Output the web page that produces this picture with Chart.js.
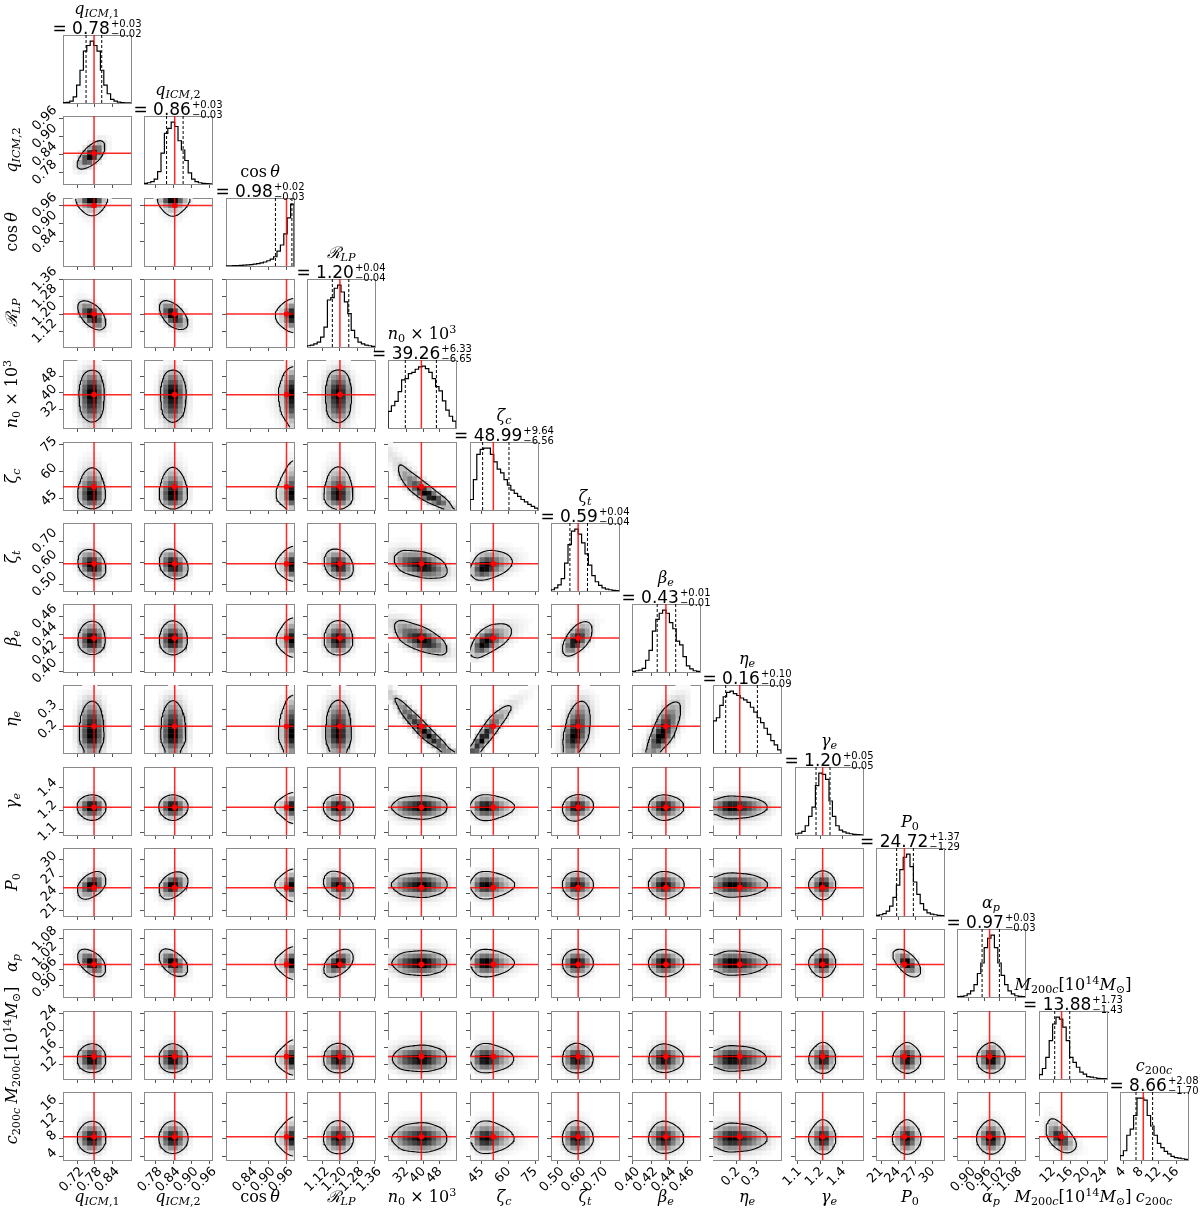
<!DOCTYPE html>
<html><head><meta charset="utf-8"><title>Corner plot</title>
<script src="https://cdn.jsdelivr.net/npm/chart.js@4.4.1/dist/chart.umd.min.js"></script>
<style>
html,body{margin:0;padding:0;background:#fff;}
#wrap{position:relative;width:1200px;height:1208px;overflow:hidden;background:#fff;}
#wrap canvas{position:absolute;}
.lbl{position:absolute;white-space:nowrap;color:#000;font-family:'DejaVu Serif',serif;font-size:16px;line-height:20px;}
.lbl i{font-style:italic;}
.lbl sub{font-size:70%;vertical-align:-0.3em;line-height:0;}
.lbl sup{font-size:70%;vertical-align:0.5em;line-height:0;}
.val{position:absolute;width:260px;text-align:center;white-space:nowrap;color:#000;font-family:'DejaVu Sans',sans-serif;font-size:17px;line-height:20px;}
.sc{display:inline-block;font-size:10px;line-height:10px;vertical-align:-3px;text-align:left;margin-left:1px;}
.sc span{display:block;}
</style></head>
<body><div id="wrap"></div>
<script>
// ---------------- DATA ----------------
const paramLabels = [
  '<i>q</i><sub><i>ICM</i>,1</sub>',
  '<i>q</i><sub><i>ICM</i>,2</sub>',
  'cos&#8201;<i>θ</i>',
  '<i>ℛ</i><sub><i>LP</i></sub>',
  '<i>n</i><sub>0</sub> × 10<sup>3</sup>',
  '<i>ζ</i><sub><i>c</i></sub>',
  '<i>ζ</i><sub><i>t</i></sub>',
  '<i>β</i><sub><i>e</i></sub>',
  '<i>η</i><sub><i>e</i></sub>',
  '<i>γ</i><sub><i>e</i></sub>',
  '<i>P</i><sub>0</sub>',
  '<i>α</i><sub><i>p</i></sub>',
  '<i>M</i><sub>200<i>c</i></sub>[10<sup>14</sup><i>M</i><sub>⊙</sub>]',
  '<i>c</i><sub>200<i>c</i></sub>'
];
const titleMedian = ['0.78','0.86','0.98','1.20','39.26','48.99','0.59','0.43','0.16','1.20','24.72','0.97','13.88','8.66'];
const titlePlus   = ['0.03','0.03','0.02','0.04','6.33','9.64','0.04','0.01','0.10','0.05','1.37','0.03','1.73','2.08'];
const titleMinus  = ['0.02','0.03','0.03','0.04','6.65','6.56','0.04','0.01','0.09','0.05','1.29','0.03','1.43','1.70'];

const axisMin = [0.672, 0.742, 0.758, 1.048, 23.1, 38.4, 0.470, 0.399, 0.083, 1.030, 20.125, 0.855, 8.64, 3.26];
const axisMax = [0.902, 0.968, 0.985, 1.362, 55.7, 76.6, 0.783, 0.474, 0.423, 1.4924, 32.0, 1.118, 24.48, 18.56];
const truthValues = [0.777, 0.844, 0.960, 1.200, 39.1, 51.5, 0.595, 0.4364, 0.2167, 1.218, 25.08, 0.981, 13.9, 8.5];
const q16Values   = [0.750, 0.817, 0.923, 1.165, 31.4, 45.5, 0.557, 0.4268, 0.1465, 1.173, 23.73, 0.952, 12.3, 6.86];
const q84Values   = [0.803, 0.872, 0.978, 1.241, 46.3, 60.3, 0.638, 0.4472, 0.305, 1.268, 26.65, 1.019, 15.8, 10.6];

const tickValues = [
  [0.72,0.78,0.84], [0.78,0.84,0.90,0.96], [0.84,0.90,0.96], [1.12,1.20,1.28,1.36],
  [32,40,48], [45,60,75], [0.50,0.60,0.70], [0.40,0.42,0.44,0.46], [0.2,0.3],
  [1.05,1.20,1.35], [21,24,27,30], [0.90,0.96,1.02,1.08], [12,16,20,24], [4,8,12,16]
];
const tickLabels = [
  ['0.72','0.78','0.84'], ['0.78','0.84','0.90','0.96'], ['0.84','0.90','0.96'], ['1.12','1.20','1.28','1.36'],
  ['32','40','48'], ['45','60','75'], ['0.50','0.60','0.70'], ['0.40','0.42','0.44','0.46'], ['0.2','0.3'],
  ['1.1','1.2','1.4'], ['21','24','27','30'], ['0.90','0.96','1.02','1.08'], ['12','16','20','24'], ['4','8','12','16']
];

// 1D histogram heights (20 bins across each axis range, relative to peak)
const hist_qICM1  = [0.005,0.01,0.03,0.10,0.29,0.53,0.84,0.93,1.0,0.93,0.84,0.53,0.29,0.15,0.06,0.03,0.015,0.008,0.004,0.002];
const hist_qICM2  = [0.01,0.02,0.04,0.08,0.20,0.50,0.82,0.90,1.0,0.93,0.70,0.55,0.38,0.18,0.08,0.04,0.02,0.01,0.005,0.003];
const hist_cos    = [0.003,0.004,0.005,0.007,0.01,0.013,0.017,0.022,0.03,0.04,0.05,0.065,0.085,0.11,0.15,0.24,0.34,0.52,0.78,1.0];
const hist_RLP    = [0.02,0.03,0.05,0.08,0.16,0.32,0.76,0.80,0.95,1.0,0.89,0.73,0.54,0.27,0.15,0.08,0.05,0.03,0.02,0.01];
const hist_n0     = [0.27,0.36,0.43,0.59,0.78,0.80,0.88,0.90,0.95,0.99,1.0,0.96,0.90,0.80,0.67,0.60,0.44,0.29,0.19,0.11];
const hist_zetaC  = [0.17,0.49,0.90,0.98,1.0,1.0,0.90,0.78,0.66,0.60,0.49,0.40,0.32,0.27,0.22,0.17,0.13,0.09,0.06,0.03];
const hist_zetaT  = [0.02,0.05,0.10,0.20,0.45,0.75,0.97,1.0,0.92,0.78,0.60,0.42,0.25,0.15,0.09,0.05,0.03,0.02,0.01,0.005];
const hist_betaE  = [0.01,0.02,0.03,0.06,0.19,0.35,0.66,0.85,0.95,1.0,0.95,0.80,0.70,0.50,0.44,0.25,0.10,0.05,0.02,0.01];
const hist_etaE   = [0.52,0.57,0.77,0.91,0.98,1.0,0.96,0.93,0.89,0.86,0.82,0.74,0.66,0.57,0.49,0.40,0.30,0.20,0.13,0.05];
const hist_gammaE = [0.02,0.03,0.06,0.15,0.30,0.45,0.80,1.0,0.98,0.90,0.55,0.30,0.15,0.08,0.05,0.03,0.02,0.01,0.005,0.003];
const hist_P0     = [0.01,0.02,0.04,0.08,0.16,0.30,0.50,0.75,0.95,1.0,0.80,0.55,0.35,0.20,0.10,0.05,0.03,0.02,0.01,0.005];
const hist_alphaP = [0.005,0.01,0.02,0.05,0.10,0.20,0.38,0.55,0.80,0.95,1.0,0.80,0.55,0.35,0.20,0.10,0.05,0.02,0.01,0.005];
const hist_M200c  = [0.07,0.17,0.35,0.62,0.89,1.0,0.97,0.84,0.62,0.35,0.27,0.19,0.11,0.08,0.04,0.03,0.02,0.01,0.008,0.005];
const hist_c200c  = [0.07,0.15,0.40,0.50,0.72,1.0,1.0,0.97,0.72,0.55,0.40,0.27,0.20,0.14,0.10,0.06,0.04,0.03,0.02,0.01];
const histograms = [hist_qICM1,hist_qICM2,hist_cos,hist_RLP,hist_n0,hist_zetaC,hist_zetaT,hist_betaE,hist_etaE,hist_gammaE,hist_P0,hist_alphaP,hist_M200c,hist_c200c];

const correlationPairs = [
  [1,0,0.70],
  [3,0,-0.60],[3,1,-0.60],
  [5,4,-0.90],
  [6,0,-0.25],[6,1,-0.25],[6,3,-0.25],[6,4,-0.35],[6,5,0.30],
  [7,4,-0.60],[7,5,0.60],[7,6,0.60],
  [8,4,-0.95],[8,5,0.93],[8,6,0.35],[8,7,0.65],
  [9,6,0.15],
  [10,0,0.45],[10,1,0.40],[10,3,-0.35],
  [11,0,-0.55],[11,1,-0.55],[11,3,0.55],[11,10,-0.70],
  [13,12,-0.60]
];

// ---------------- LAYOUT ----------------
const N = 14;
const X0 = 63, Y0 = 35, PITCH = 81.3, SIZE = 68;
const ML = 60, MR = 20, MT = 26, MB = 52;
const FRAME = '#8a8a8a', TICKC = '#555';
const TICK_FONT = 13;
const NB2 = 14;           // visible density cells per axis
const SUB = 3;            // fine sub-cells per density cell
const G = NB2 * SUB;      // fine grid for contouring
const SMOOTH = 2.0;       // smoothing (fine cells)
const LEVEL_MASS = 0.68;  // mass enclosed by the contour
const GAMMA = 1.7;
const wrap = document.getElementById('wrap');
const panelLeft = j => Math.round(X0 + j * PITCH);
const panelTop = i => Math.round(Y0 + i * PITCH);

const mctx = document.createElement('canvas').getContext('2d');
function measure(txt){ mctx.font = TICK_FONT + "px 'DejaVu Sans'"; return mctx.measureText(txt).width; }

// ---------------- stats helpers ----------------
function normInv(p){
  const a=[-39.69683028665376,220.9460984245205,-275.9285104469687,138.3577518672690,-30.66479806614716,2.506628277459239];
  const b=[-54.47609879822406,161.5858368580409,-155.6989798598866,66.80131188771972,-13.28068155288572];
  const c=[-0.007784894002430293,-0.3223964580411365,-2.400758277161838,-2.549732539343734,4.374664141464968,2.938163982698783];
  const d=[0.007784695709041462,0.3224671290700398,2.445134137142996,3.754408661907416];
  p = Math.min(Math.max(p,1e-7),1-1e-7);
  const pl=0.02425; let q,r;
  if(p<pl){ q=Math.sqrt(-2*Math.log(p)); return (((((c[0]*q+c[1])*q+c[2])*q+c[3])*q+c[4])*q+c[5])/((((d[0]*q+d[1])*q+d[2])*q+d[3])*q+1); }
  if(p>1-pl){ q=Math.sqrt(-2*Math.log(1-p)); return -(((((c[0]*q+c[1])*q+c[2])*q+c[3])*q+c[4])*q+c[5])/((((d[0]*q+d[1])*q+d[2])*q+d[3])*q+1); }
  q=p-0.5; r=q*q; return (((((a[0]*r+a[1])*r+a[2])*r+a[3])*r+a[4])*r+a[5])*q/(((((b[0]*r+b[1])*r+b[2])*r+b[3])*r+b[4])*r+1);
}
function makeDist(p){
  const h = histograms[p].map(v => Math.max(v, 1e-4)), lo = axisMin[p], hi = axisMax[p];
  const n = h.length, w = (hi-lo)/n, tot = h.reduce((a,b)=>a+b,0);
  const C=[0]; for(let k=0;k<n;k++) C.push(C[k]+h[k]/tot);
  return {
    pdf(x){ const k=Math.floor((x-lo)/w); return (k<0||k>=n)?0:h[k]/tot/w; },
    cdf(x){ if(x<=lo) return 0; if(x>=hi) return 1; const t=(x-lo)/w, k=Math.min(n-1,Math.floor(t)); return C[k]+(t-k)*(C[k+1]-C[k]); }
  };
}
const dists = histograms.map((_,p)=>makeDist(p));
function corrOf(i,j){ const f = correlationPairs.find(c=>c[0]===i&&c[1]===j); return f ? f[2] : 0; }

function smoothGrid(D){
  const R = Math.ceil(SMOOTH*2.5), ker = [];
  for (let k=-R;k<=R;k++) ker.push(Math.exp(-0.5*(k/SMOOTH)**2));
  const tmp = new Float64Array(G*G), out = new Float64Array(G*G);
  for (let b=0;b<G;b++) for (let a=0;a<G;a++){ let s=0,ws=0; for(let k=-R;k<=R;k++){ const aa=a+k; if(aa<0||aa>=G) continue; s+=D[b*G+aa]*ker[k+R]; ws+=ker[k+R]; } tmp[b*G+a]=s/ws; }
  for (let b=0;b<G;b++) for (let a=0;a<G;a++){ let s=0,ws=0; for(let k=-R;k<=R;k++){ const bb=b+k; if(bb<0||bb>=G) continue; s+=tmp[bb*G+a]*ker[k+R]; ws+=ker[k+R]; } out[b*G+a]=s/ws; }
  return out;
}
// marching squares -> list of polylines (in grid node coordinates)
function contourLines(D, L){
  const pts = new Map(), adj = new Map();
  const val = (a,b) => D[b*G+a];
  function edgePt(key, a1,b1,a2,b2){
    if (!pts.has(key)){ const v1=val(a1,b1), v2=val(a2,b2); const t=(L-v1)/(v2-v1); pts.set(key,[a1+t*(a2-a1), b1+t*(b2-b1)]); }
    return key;
  }
  function link(k1,k2){ if(!adj.has(k1)) adj.set(k1,[]); if(!adj.has(k2)) adj.set(k2,[]); adj.get(k1).push(k2); adj.get(k2).push(k1); }
  for (let b=0;b<G-1;b++) for (let a=0;a<G-1;a++){
    const v0=val(a,b)>=L, v1=val(a+1,b)>=L, v2=val(a+1,b+1)>=L, v3=val(a,b+1)>=L;
    const E = [];
    const e0 = () => edgePt('h'+a+','+b, a,b,a+1,b);
    const e1 = () => edgePt('v'+(a+1)+','+b, a+1,b,a+1,b+1);
    const e2 = () => edgePt('h'+a+','+(b+1), a,b+1,a+1,b+1);
    const e3 = () => edgePt('v'+a+','+b, a,b,a,b+1);
    const n = v0+v1+v2+v3;
    if (n===0 || n===4) continue;
    if (n===2 && v0===v2){
      const center = (val(a,b)+val(a+1,b)+val(a+1,b+1)+val(a,b+1))/4 >= L;
      if (v0 === center){ link(e0(),e1()); link(e2(),e3()); } else { link(e0(),e3()); link(e1(),e2()); }
      continue;
    }
    if (v0!==v1) E.push(e0()); if (v1!==v2) E.push(e1()); if (v3!==v2) E.push(e2()); if (v0!==v3) E.push(e3());
    if (E.length===2) link(E[0],E[1]);
  }
  const used = new Set(), lines = [];
  const segKey = (x,y) => x<y ? x+'|'+y : y+'|'+x;
  function walk(start){
    const line=[start]; let cur=start;
    while (true){
      const nb = (adj.get(cur)||[]).find(k => !used.has(segKey(cur,k)));
      if (nb===undefined) break;
      used.add(segKey(cur,nb)); line.push(nb); cur=nb;
    }
    return line;
  }
  for (const [k,v] of adj) if (v.length===1 && !used.has(segKey(k,v[0]))) lines.push(walk(k));
  for (const [k,v] of adj) for (const o of v) if (!used.has(segKey(k,o))) lines.push(walk(k));
  return lines.map(l => l.map(k => pts.get(k)));
}

// ---------------- axis configs ----------------
function visibleTicks(p){
  const vals=[], labs=[];
  tickValues[p].forEach((v,k)=>{ if(v>=axisMin[p]-1e-9 && v<=axisMax[p]+1e-9){ vals.push(v); labs.push(tickLabels[p][k]); } });
  return {vals, labs};
}
function noPad(s){ s.paddingLeft=s.paddingRight=s.paddingTop=s.paddingBottom=0; }
function xAxis(p, showLabels){
  const {vals, labs} = visibleTicks(p);
  const w = Math.max(...labs.map(measure));
  return { type:'linear', position:'bottom', min:axisMin[p], max:axisMax[p],
    afterBuildTicks: s => { s.ticks = vals.map(v=>({value:v})); },
    ticks:{ display:showLabels, color:'#000', font:{family:"'DejaVu Sans'", size:TICK_FONT}, minRotation:45, maxRotation:45,
      autoSkip:false, padding:0, labelOffset: 0.354*w - 0.42*TICK_FONT, callback:(v,idx)=>labs[idx] },
    grid:{ display:true, drawOnChartArea:false, drawTicks:true, tickLength:4, color:TICKC, lineWidth:1 },
    border:{ display:true, color:FRAME, width:1 },
    afterFit: s => { s.height = MB; noPad(s); } };
}
function yAxis(p, showLabels){
  const {vals, labs} = visibleTicks(p);
  const w = Math.max(...labs.map(measure));
  return { type:'linear', position:'left', min:axisMin[p], max:axisMax[p],
    afterBuildTicks: s => { s.ticks = vals.map(v=>({value:v})); },
    ticks:{ display:showLabels, color:'#000', font:{family:"'DejaVu Sans'", size:TICK_FONT}, minRotation:45, maxRotation:45,
      autoSkip:false, padding:4, labelOffset: -0.354*w, callback:(v,idx)=>labs[idx] },
    grid:{ display:true, drawOnChartArea:false, drawTicks:true, tickLength:4, color:TICKC, lineWidth:1 },
    border:{ display:true, color:FRAME, width:1 },
    afterFit: s => { s.width = ML; noPad(s); } };
}
function histYAxis(ymax){
  return { type:'linear', position:'left', min:0, max:ymax, ticks:{display:false},
    grid:{ display:true, drawOnChartArea:false, drawTicks:false }, border:{ display:true, color:FRAME, width:1 },
    afterFit: s => { s.width = ML; noPad(s); } };
}
function frameAxis(pos, lo, hi){
  return { type:'linear', position:pos, min:lo, max:hi, ticks:{display:false},
    grid:{ display:true, drawOnChartArea:false, drawTicks:false }, border:{ display:true, color:FRAME, width:1 },
    afterFit: s => { if(pos==='top') s.height = MT; else s.width = MR; noPad(s); } };
}
function makeChart(i, j, datasets, scales){
  const c = document.createElement('canvas');
  const W = ML+SIZE+MR, H = MT+SIZE+MB;
  c.width = W; c.height = H; c.style.width = W+'px'; c.style.height = H+'px';
  c.style.left = (panelLeft(j)-ML)+'px'; c.style.top = (panelTop(i)-MT)+'px';
  wrap.appendChild(c);
  new Chart(c, { type:'scatter', data:{ datasets },
    options:{ responsive:false, maintainAspectRatio:false, animation:false, devicePixelRatio:1, events:[],
      layout:{ padding:0 }, plugins:{ legend:{display:false}, tooltip:{enabled:false}, title:{display:false} }, scales } });
}
function vLine(x, y0, y1, color, width, dash, order){
  return { data:[{x, y:y0},{x, y:y1}], showLine:true, borderColor:color, borderWidth:width, borderDash:dash||[], pointRadius:0, order, clip:0 };
}
const RED = 'rgba(255,0,0,0.85)';

// ---------------- 1D histogram panels ----------------
for (let p = 0; p < N; p++){
  const lo = axisMin[p], hi = axisMax[p], h = histograms[p], n = h.length, w = (hi-lo)/n;
  const ymax = 1.1 * Math.max(...h);
  const pts = [{x:lo, y:0}];
  h.forEach((v,k) => pts.push({x: lo + k*w, y: v}));
  pts.push({x:hi, y:0});
  const ds = [
    vLine(truthValues[p], 0, ymax, RED, 1.5, null, 0),
    vLine(q16Values[p], 0, ymax, '#000', 1, [3,2], 1),
    vLine(q84Values[p], 0, ymax, '#000', 1, [3,2], 1),
    { data: pts, showLine:true, stepped:true, borderColor:'#000', borderWidth:1.2, pointRadius:0, order:2, clip:0 }
  ];
  makeChart(p, p, ds, { x: xAxis(p, p === N-1), y: histYAxis(ymax), xt: frameAxis('top', lo, hi), yr: frameAxis('right', 0, ymax) });
}

// ---------------- 2D panels ----------------
for (let i = 1; i < N; i++){
  for (let j = 0; j < i; j++){
    const dx = dists[j], dy = dists[i], rho = corrOf(i,j);
    const lx = axisMin[j], hx = axisMax[j], ly = axisMin[i], hy = axisMax[i];
    const gx = (hx-lx)/G, gy = (hy-ly)/G;
    const k1 = 1/Math.sqrt(1-rho*rho), k2 = 2*(1-rho*rho);
    const fxA=[], zxA=[], fyA=[], zyA=[];
    for (let a=0;a<G;a++){ const x=lx+(a+0.5)*gx; fxA.push(dx.pdf(x)); zxA.push(Math.max(-3.5,Math.min(3.5,normInv(dx.cdf(x))))); }
    for (let b=0;b<G;b++){ const y=ly+(b+0.5)*gy; fyA.push(dy.pdf(y)); zyA.push(Math.max(-3.5,Math.min(3.5,normInv(dy.cdf(y))))); }
    const D = new Float64Array(G*G);
    for (let b=0;b<G;b++) for (let a=0;a<G;a++){
      const z1=zxA[a], z2=zyA[b];
      D[b*G+a] = fxA[a]*fyA[b]*k1*Math.exp(-(rho*rho*(z1*z1+z2*z2) - 2*rho*z1*z2)/k2);
    }
    const S = smoothGrid(D);
    const coarse = [];
    let cmax = 0;
    for (let B=0;B<NB2;B++) for (let A=0;A<NB2;A++){
      let s=0; for (let u=0;u<SUB;u++) for (let v=0;v<SUB;v++) s += S[(B*SUB+v)*G + A*SUB+u];
      coarse.push({x: lx+(A+0.5)*(hx-lx)/NB2, y: ly+(B+0.5)*(hy-ly)/NB2, v:s}); if (s>cmax) cmax=s;
    }
    const cells=[], colors=[];
    coarse.forEach(c => { const t=Math.pow(c.v/cmax, GAMMA); if (t>0.015){ cells.push({x:c.x,y:c.y}); const g=Math.round(255*(1-t)); colors.push(`rgb(${g},${g},${g})`); } });
    const sorted = Array.from(S).sort((a,b)=>b-a);
    const total = sorted.reduce((a,b)=>a+b,0);
    let cum=0, L=sorted[0];
    for (const v of sorted){ cum+=v; if (cum >= LEVEL_MASS*total){ L=v; break; } }
    const lines = contourLines(S, L);
    const cellPx = SIZE/NB2;
    const ds = [
      { data:[{x:truthValues[j], y:truthValues[i]}], pointStyle:'circle', pointRadius:2.8, backgroundColor:'#ff0000', borderWidth:0, order:0, clip:0 },
      vLine(truthValues[j], ly, hy, RED, 1.5, null, 1),
      { data:[{x:lx, y:truthValues[i]},{x:hx, y:truthValues[i]}], showLine:true, borderColor:RED, borderWidth:1.5, pointRadius:0, order:1, clip:0 },
      { data: cells, pointStyle:'rect', pointRadius: cellPx/Math.SQRT2 + 0.3, backgroundColor: colors, borderWidth:0, order:3, clip:0 }
    ];
    lines.forEach(l => {
      if (l.length < 2) return;
      ds.push({ data: l.map(([a,b]) => ({x: lx+(a+0.5)*gx, y: ly+(b+0.5)*gy})), showLine:true, borderColor:'#000', borderWidth:1.1,
        pointRadius:0, tension:0, order:2, clip:0 });
    });
    makeChart(i, j, ds, { x: xAxis(j, i === N-1), y: yAxis(i, j === 0), xt: frameAxis('top', lx, hx), yr: frameAxis('right', ly, hy) });
  }
}

// ---------------- text: titles and axis labels ----------------
function addDiv(cls, html, css){ const d = document.createElement('div'); d.className = cls; d.innerHTML = html; Object.assign(d.style, css); wrap.appendChild(d); return d; }
for (let p = 0; p < N; p++){
  const cx = panelLeft(p) + SIZE/2, T = panelTop(p);
  addDiv('lbl', paramLabels[p], { left: cx+'px', top: (T - 36)+'px', transform:'translateX(-50%)' });
  addDiv('val', `= ${titleMedian[p]}<span class="sc"><span>+${titlePlus[p]}</span><span>\u2212${titleMinus[p]}</span></span>`,
    { left: (cx-130)+'px', top: (T - 17)+'px' });
  addDiv('lbl', paramLabels[p], { left: cx+'px', top: '1187px', transform:'translateX(-50%)' });
  if (p > 0) addDiv('lbl', paramLabels[p], { left: '12px', top: (T + SIZE/2)+'px', transform:'translate(-50%,-50%) rotate(-90deg)' });
}
</script>
</body></html>
